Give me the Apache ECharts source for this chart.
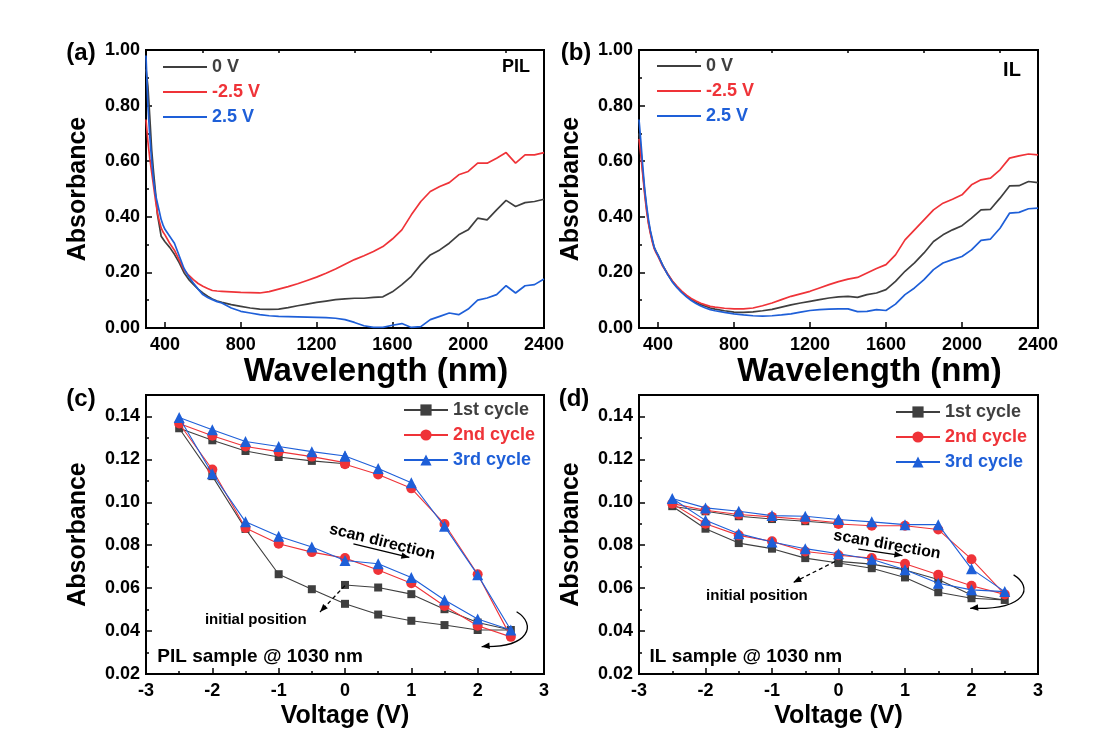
<!DOCTYPE html>
<html>
<head>
<meta charset="utf-8">
<script src="https://cdn.jsdelivr.net/npm/echarts@6/dist/echarts.min.js"></script>
<style>
html,body{margin:0;padding:0;background:#fff;}
#c{width:1108px;height:753px;}
</style>
</head>
<body>
<div id="c"></div>
<script>
// ---------- DATA ----------
const wavelengths = [300,310,320,330,340,350,360,370,380,390,400,425,450,475,500,525,550,575,600,625,650,675,700,
  750,800,850,900,950,1000,1050,1100,1150,1200,1250,1300,1350,1400,1450,1500,1550,1600,1650,1700,1750,1800,1850,1900,1950,2000,2050,2100,2150,2200,2250,2300,2350,2400];

// (a) PIL
const pil0V = [0.93,0.87,0.76,0.64,0.56,0.49,0.41,0.37,0.33,0.32,0.31,0.29,0.265,0.235,0.20,0.175,0.157,0.14,0.126,0.114,0.104,0.097,0.092,
  0.084,0.078,0.072,0.068,0.067,0.068,0.073,0.080,0.086,0.092,0.097,0.102,0.105,0.107,0.107,0.110,0.112,0.130,0.156,0.186,0.228,0.263,0.281,0.305,0.335,0.353,0.395,0.389,0.425,0.459,0.437,0.451,0.455,0.463];
const pilNeg = [0.75,0.67,0.61,0.56,0.51,0.46,0.415,0.385,0.36,0.345,0.335,0.305,0.28,0.245,0.21,0.19,0.174,0.16,0.15,0.142,0.135,0.133,0.132,
  0.130,0.128,0.127,0.126,0.131,0.140,0.149,0.159,0.171,0.183,0.197,0.212,0.229,0.246,0.260,0.275,0.293,0.320,0.353,0.407,0.455,0.491,0.509,0.523,0.551,0.563,0.593,0.593,0.611,0.631,0.593,0.623,0.623,0.631];
const pilPos = [0.98,0.80,0.69,0.60,0.53,0.48,0.45,0.42,0.39,0.37,0.355,0.33,0.305,0.26,0.215,0.185,0.162,0.14,0.12,0.11,0.102,0.095,0.09,
  0.072,0.060,0.054,0.048,0.044,0.042,0.041,0.040,0.039,0.038,0.037,0.035,0.030,0.020,0.008,0.002,0.002,0.010,0.016,0.002,0.005,0.030,0.042,0.054,0.048,0.068,0.100,0.108,0.120,0.152,0.126,0.152,0.156,0.176];

// (b) IL
const il0V = [0.70,0.64,0.56,0.49,0.43,0.38,0.345,0.315,0.29,0.275,0.262,0.225,0.195,0.168,0.148,0.13,0.115,0.102,0.092,0.084,0.078,0.072,0.068,
  0.062,0.057,0.056,0.058,0.062,0.067,0.075,0.083,0.090,0.096,0.102,0.108,0.112,0.114,0.110,0.120,0.126,0.138,0.168,0.204,0.234,0.270,0.311,0.335,0.353,0.368,0.395,0.425,0.427,0.467,0.511,0.512,0.527,0.523];
const ilNeg = [0.68,0.62,0.55,0.48,0.42,0.375,0.34,0.31,0.285,0.27,0.258,0.222,0.195,0.17,0.15,0.133,0.118,0.106,0.097,0.089,0.083,0.078,0.075,
  0.071,0.069,0.069,0.072,0.080,0.090,0.102,0.114,0.123,0.132,0.144,0.156,0.167,0.176,0.182,0.198,0.214,0.228,0.263,0.317,0.353,0.389,0.425,0.449,0.463,0.479,0.515,0.533,0.539,0.569,0.611,0.619,0.626,0.623];
const ilPos = [0.75,0.67,0.58,0.50,0.44,0.39,0.35,0.32,0.29,0.275,0.262,0.225,0.193,0.166,0.145,0.127,0.112,0.099,0.088,0.079,0.072,0.066,0.062,
  0.056,0.051,0.047,0.044,0.043,0.044,0.047,0.051,0.057,0.063,0.066,0.068,0.069,0.069,0.059,0.060,0.066,0.063,0.086,0.120,0.144,0.174,0.210,0.234,0.246,0.257,0.281,0.315,0.320,0.359,0.413,0.416,0.429,0.431];

const specLegend = ['0 V','-2.5 V','2.5 V'];
const cycleLegend = ['1st cycle','2nd cycle','3rd cycle'];

// (c) PIL cycles (voltage path, absorbance)
const pilC1V = [0,0.5,1,1.5,2,2.5,2,1.5,1,0.5,0,-0.5,-1,-1.5,-2,-2.5,-2,-1.5,-1,-0.5,0];
const pilC1A = [0.0615,0.0603,0.0572,0.0502,0.0440,0.0405,0.0405,0.0428,0.0448,0.0477,0.0527,0.0595,0.0665,0.0876,0.1122,0.1345,0.1289,0.1239,0.1211,0.1193,0.1180];
const pilC2V = [0,0.5,1,1.5,2,2.5,2,1.5,1,0.5,0,-0.5,-1,-1.5,-2,-2.5,-2,-1.5,-1,-0.5,0];
const pilC2A = [0.1177,0.1130,0.1065,0.0899,0.0665,0.0373,0.0425,0.0517,0.0623,0.0685,0.0740,0.0768,0.0807,0.0880,0.1153,0.1367,0.1310,0.1260,0.1236,0.1213,0.1185];
const pilC3V = [0,0.5,1,1.5,2,2.5,2,1.5,1,0.5,0,-0.5,-1,-1.5,-2,-2.5,-2,-1.5,-1,-0.5,0];
const pilC3A = [0.1216,0.1158,0.1091,0.0888,0.0662,0.0405,0.0456,0.0545,0.0650,0.0714,0.0729,0.0792,0.0842,0.0909,0.1133,0.1395,0.1338,0.1283,0.1260,0.1236,0.1216];

// (d) IL cycles
const ilC1V = [0,0.5,1,1.5,2,2.5,2,1.5,1,0.5,0,-0.5,-1,-1.5,-2,-2.5,-2,-1.5,-1,-0.5,0];
const ilC1A = [0.0725,0.0712,0.0685,0.0640,0.0568,0.0545,0.0553,0.0581,0.0650,0.0693,0.0717,0.0740,0.0784,0.0810,0.0877,0.0982,0.0958,0.0935,0.0922,0.0912,0.0900];
const ilC2V = [0,0.5,1,1.5,2,2.5,2,1.5,1,0.5,0,-0.5,-1,-1.5,-2,-2.5,-2,-1.5,-1,-0.5,0];
const ilC2A = [0.0899,0.0891,0.0891,0.0873,0.0735,0.0571,0.0611,0.0662,0.0714,0.0740,0.0753,0.0771,0.0818,0.0846,0.0900,0.0994,0.0963,0.0943,0.0932,0.0920,0.0905];
const ilC3V = [0,0.5,1,1.5,2,2.5,2,1.5,1,0.5,0,-0.5,-1,-1.5,-2,-2.5,-2,-1.5,-1,-0.5,0];
const ilC3A = [0.0920,0.0909,0.0896,0.0896,0.0690,0.0584,0.0592,0.0623,0.0686,0.0735,0.0760,0.0784,0.0815,0.0854,0.0916,0.1018,0.0974,0.0958,0.0938,0.0935,0.0920];

const wlMajorTicks = [400,800,1200,1600,2000,2400];
const wlMinorTicks = [600,1000,1400,1800,2200];

// ---------- STYLE ----------
const FONT = "'Liberation Sans', Arial, Helvetica, sans-serif";
const GRAY = '#3f3f3f', RED = '#ef3338', BLUE = '#1e5fd8';
const colors = [GRAY, RED, BLUE];

const chart = echarts.init(document.getElementById('c'), null, {renderer:'canvas'});

const grids = [
  {left:146, top:50, width:398, height:278},
  {left:639, top:50, width:399, height:278},
  {left:146, top:395, width:398, height:279},
  {left:639, top:395, width:399, height:279}
].map(g => Object.assign({show:true, borderColor:'#000', borderWidth:2, backgroundColor:'transparent'}, g));

const tickLabel = {color:'#000', fontSize:18, fontWeight:'bold', fontFamily:FONT};
const nameStyle = {color:'#000', fontSize:25, fontWeight:'bold', fontFamily:FONT};

function wlAxis(gi){
  return [{
    type:'value', gridIndex:gi, min:300, max:2400,
    axisLine:{show:false, onZero:false}, splitLine:{show:false},
    axisTick:{show:true, inside:true, length:6, customValues:wlMajorTicks, lineStyle:{color:'#000', width:1.5}},
    axisLabel:Object.assign({customValues:wlMajorTicks, margin:8, formatter:v=>String(v)}, tickLabel),
    name:'Wavelength (nm)', nameLocation:'middle', nameGap:27,
    nameTextStyle:Object.assign({}, nameStyle, {fontSize:33, padding:[0,0,0,62]})
  },{
    type:'value', gridIndex:gi, min:300, max:2400,
    axisLine:{show:false, onZero:false}, splitLine:{show:false},
    axisTick:{show:true, inside:true, length:3, customValues:wlMinorTicks, lineStyle:{color:'#000', width:1.5}},
    axisLabel:{show:false}
  }];
}
function vAxis(gi){
  return {
    type:'value', gridIndex:gi, min:-3, max:3, interval:1,
    axisLine:{show:false, onZero:false}, splitLine:{show:false},
    axisTick:{show:true, inside:true, length:6, lineStyle:{color:'#000', width:1.5}},
    minorTick:{show:true, splitNumber:2, length:3, lineStyle:{color:'#000', width:1.5}},
    axisLabel:Object.assign({margin:8, formatter:v=>String(v)}, tickLabel),
    name:'Voltage (V)', nameLocation:'middle', nameGap:30, nameTextStyle:nameStyle
  };
}
function absAxis(gi, min, max, interval){
  return {
    type:'value', gridIndex:gi, min:min, max:max, interval:interval,
    axisLine:{show:false, onZero:false}, splitLine:{show:false},
    axisTick:{show:true, inside:true, length:6, lineStyle:{color:'#000', width:1.5}},
    minorTick:{show:true, splitNumber:2, length:3, lineStyle:{color:'#000', width:1.5}},
    axisLabel:Object.assign({margin:6, showMaxLabel: max===1, formatter:v=>v.toFixed(2)}, tickLabel),
    name:'Absorbance', nameLocation:'middle', nameGap:55, nameTextStyle:nameStyle
  };
}

const xAxes = [...wlAxis(0), ...wlAxis(1), vAxis(2), vAxis(3)];
const yAxes = [absAxis(0,0,1,0.2), absAxis(1,0,1,0.2), absAxis(2,0.02,0.15,0.02), absAxis(3,0.02,0.15,0.02)];

function pairs(xs, ys){ return xs.map((x,i)=>[x, ys[i]]); }

const series = [];
[[pil0V,pilNeg,pilPos],[il0V,ilNeg,ilPos]].forEach((set, p)=>{
  set.forEach((arr, k)=>{
    series.push({
      type:'line', name:specLegend[k], xAxisIndex:p*2, yAxisIndex:p,
      data:pairs(wavelengths, arr), symbol:'none', smooth:false,
      lineStyle:{color:colors[k], width:1.7}, itemStyle:{color:colors[k]}, z:2+k, clip:true
    });
  });
});
const symbols = ['rect','circle','triangle'];
const symSizes = [8,10,11];
[[[pilC1V,pilC1A],[pilC2V,pilC2A],[pilC3V,pilC3A]],[[ilC1V,ilC1A],[ilC2V,ilC2A],[ilC3V,ilC3A]]].forEach((set,p)=>{
  set.forEach((c,k)=>{
    series.push({
      type:'line', name:cycleLegend[k], xAxisIndex:4+p, yAxisIndex:2+p,
      data:pairs(c[0], c[1]), symbol:symbols[k], symbolSize:symSizes[k], showAllSymbol:true,
      lineStyle:{color:colors[k], width:1.1}, itemStyle:{color:colors[k]}, z:2+k
    });
  });
});

const legendText = {fontSize:18, fontWeight:'bold', fontFamily:FONT};
function legend(names, left, top, lineOnly){
  return {
    orient:'vertical', left:left, top:top, padding:0, itemGap:7, itemWidth:44, itemHeight:lineOnly?2.2:14,
    selectedMode:false, textStyle:legendText,
    data:names.map((n,k)=>(lineOnly ? {name:n, icon:'rect', textStyle:{color:colors[k]}} : {name:n, textStyle:{color:colors[k]}}))
  };
}

chart.setOption({
  animation:false,
  backgroundColor:'#fff',
  grid:grids,
  xAxis:xAxes,
  yAxis:yAxes,
  legend:[legend(specLegend,163,58,true), legend(specLegend,657,57,true), legend(cycleLegend,403,401,false), legend(cycleLegend,895,403,false)],
  series:series
});

// ---------- ANNOTATIONS ----------
function px(seriesIndex, pt){ return chart.convertToPixel({seriesIndex:seriesIndex}, pt); }
const g = [];
function txt(x, y, s, size, rot){
  g.push({type:'text', x:x, y:y, rotation:rot||0,
    style:{text:s, fill:'#000', font:'bold '+size+'px '+FONT, textAlign:'center', textVerticalAlign:'middle'}, z:20});
}
function arrowHead(tip, from, len, half){
  const dx = tip[0]-from[0], dy = tip[1]-from[1];
  const L = Math.hypot(dx,dy); const ux = dx/L, uy = dy/L;
  const bx = tip[0]-ux*len, by = tip[1]-uy*len;
  g.push({type:'polygon', shape:{points:[tip,[bx-uy*half, by+ux*half],[bx+uy*half, by-ux*half]]}, style:{fill:'#000'}, z:20});
}
function arrow(a, b, dashed){
  g.push({type:'line', shape:{x1:a[0],y1:a[1],x2:b[0],y2:b[1]}, style:{stroke:'#000', lineWidth:1.3, lineDash:dashed?[4,3]:null}, z:20});
  arrowHead(b, a, 8, 3.2);
}
// panel labels
txt(81, 53, '(a)', 24); txt(576, 53, '(b)', 24); txt(81, 399, '(c)', 24); txt(574, 399, '(d)', 24);
txt(516, 67, 'PIL', 18); txt(1012, 70, 'IL', 20);

[[6, {scan:[0.56,0.0815], rot:14, sa:[0.127,0.0806], sb:[0.97,0.0743], init:[-1.346,0.0451], da:[0.0,0.0612], db:[-0.377,0.0489],
      cs:[2.587,0.0490], ce:[2.06,0.0328], label:[-1.28,0.0278], text:'PIL sample @ 1030 nm'}],
 [9, {scan:[0.73,0.0802], rot:10, sa:[0.298,0.0782], sb:[0.961,0.0752], init:[-1.227,0.0564], da:[-0.053,0.0724], db:[-0.681,0.0626],
      cs:[2.633,0.0662], ce:[1.98,0.0506], label:[-1.393,0.0278], text:'IL sample @ 1030 nm'}]
].forEach(([si, a])=>{
  const sc = px(si, a.scan);
  txt(sc[0], sc[1], 'scan direction', 16, -a.rot*Math.PI/180);
  arrow(px(si,a.sa), px(si,a.sb), false);
  const ip = px(si, a.init); txt(ip[0], ip[1], 'initial position', 15);
  arrow(px(si,a.da), px(si,a.db), true);
  const s = px(si, a.cs), e = px(si, a.ce);
  g.push({type:'bezierCurve', shape:{x1:s[0],y1:s[1],cpx1:s[0]+20,cpy1:s[1]+12,cpx2:s[0]+14,cpy2:e[1]+2,x2:e[0],y2:e[1]},
    style:{stroke:'#000', lineWidth:1.3, fill:null}, z:20});
  arrowHead(e, [e[0]+10, e[1]-1], 8, 3.2);
  const lb = px(si, a.label); txt(lb[0], lb[1], a.text, 19);
});
chart.setOption({graphic:g});
</script>
</body>
</html>
